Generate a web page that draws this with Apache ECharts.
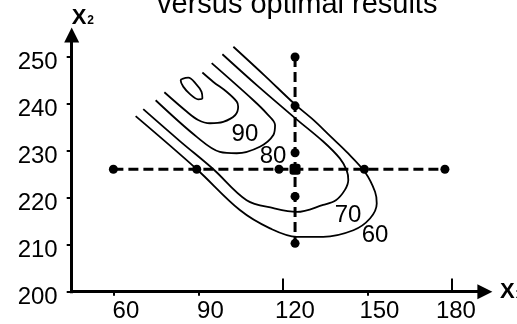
<!DOCTYPE html>
<html>
<head>
<meta charset="utf-8">
<script src="https://cdn.jsdelivr.net/npm/echarts/dist/echarts.min.js"></script>
<style>
html,body{margin:0;padding:0;background:#fff;}
#chart{width:517px;height:324px;}
</style>
</head>
<body>
<div id="chart"></div>
<script>
// ---- data ----
const titleText = 'versus optimal results';
const xTickValues = [60, 90, 120, 150, 180];
const yTickValues = [200, 210, 220, 230, 240, 250];
const xUpperTickValues = [120, 180];

// design points on the horizontal dashed line (X1 varies, X2 fixed)
const horizPointsX = [59.8, 89.4, 118.6, 148.9, 177.5];
const horizPointY = 226.1;
// design points on the vertical dashed line (X2 varies, X1 fixed)
const vertPointsY = [250, 239.6, 229.6, 220.3, 210.3];
const vertPointX = 124.3;
const centerPoint = [124.3, 226.1];

// contour lines [X1, X2]
const contour60 = [[102.4,252.2],[113.6,246.0],[124.3,239.9],[130.8,236.6],[136.7,233.2],[142.6,229.8],[149.1,225.5],[152.7,221.3],[153.3,218.8],[150.9,215.6],[145.0,213.1],[134.3,211.7],[124.9,211.7],[115.4,213.5],[104.7,217.4],[89.4,226.1],[67.7,237.4]];
const contour70 = [[98.5,250.6],[111.1,243.8],[124.3,237.0],[134.3,232.0],[140.2,228.4],[142.6,225.9],[143.2,223.8],[142.0,221.7],[138.8,219.5],[134.3,218.5],[124.9,217.0],[116.6,217.8],[107.1,219.5],[95.3,226.1],[83.4,232.1],[70.4,238.9]];
const contour80 = [[94.7,248.7],[109.5,240.8],[114.2,238.0],[117.2,235.5],[116.6,233.4],[111.8,230.9],[103.6,229.5],[97.6,229.8],[89.4,233.0],[74.8,240.8]];
const contour90 = [[91.4,246.7],[95.3,244.7],[100.0,242.6],[103.6,240.5],[104.1,239.4],[103.0,237.6],[98.8,236.2],[94.1,235.9],[89.9,236.6],[85.8,238.4],[77.9,242.5]];
const contourPeak = [[84.0,245.3],[86.4,245.6],[89.1,244.3],[91.1,242.6],[91.4,241.2],[89.9,241.0],[87.0,242.1],[84.6,243.7],[83.7,245.0],[84.0,245.3]];

const contourLabelText = ['90', '80', '70', '60'];
const contourLabelX = [106.5, 116.5, 143.1, 152.7];
const contourLabelY = [233.5, 228.8, 216.3, 211.9];

// ---- chart ----
const FONT = 'Liberation Sans';
const chart = echarts.init(document.getElementById('chart'), null, {renderer: 'canvas'});

const contourSeries = [contour60, contour70, contour80, contour90, contourPeak].map(d => ({
  type: 'line', data: d, smooth: 0.35, showSymbol: false, symbol: 'none',
  lineStyle: {color: '#000', width: 1.8, opacity: 1}, z: 2, silent: true
}));

const dots = horizPointsX.map(x => [x, horizPointY]).concat(vertPointsY.map(y => [vertPointX, y]));

const nameRich = {
  a: {fontSize: 22, fontWeight: 'bold', fontFamily: FONT, color: '#000'},
  b: {fontSize: 12, fontWeight: 'bold', fontFamily: FONT, color: '#000', verticalAlign: 'bottom', padding: [0, 0, 2, 1]}
};

const option = {
  backgroundColor: '#fff',
  animation: false,
  title: {
    text: titleText, left: 152, top: -15,
    textStyle: {fontSize: 29, fontWeight: 'normal', color: '#000', fontFamily: FONT}
  },
  grid: {left: 71.7, top: 35, width: 413.2, height: 256.7, outerBoundsMode: 'none', containLabel: false},
  xAxis: {
    type: 'value', min: 45, max: 191.7,
    axisLine: {show: true, onZero: false, lineStyle: {color: '#000', width: 3, cap: 'square'},
      symbol: ['none', 'triangle'], symbolSize: [15, 15]},
    axisTick: {show: true, length: 4, customValues: [60, 90, 150], lineStyle: {color: '#000', width: 2}},
    axisLabel: {
      customValues: xTickValues, color: '#000', fontFamily: FONT, fontSize: 24, margin: 8,
      formatter: v => v === 180 ? '{b|' + v + '}' : '{a|' + v + '}',
      rich: {
        a: {fontSize: 24, fontFamily: FONT, color: '#000', padding: [0, 0, 0, 24]},
        b: {fontSize: 24, fontFamily: FONT, color: '#000', padding: [0, 0, 0, 8]}
      }
    },
    splitLine: {show: false},
    name: '{a|X}{b|1}', nameLocation: 'end', nameGap: 15,
    nameTextStyle: {align: 'left', verticalAlign: 'middle', fontWeight: 'bold', fontSize: 22, fontFamily: FONT, color: '#000', rich: nameRich}
  },
  yAxis: {
    type: 'value', min: 200, max: 254.7,
    axisLine: {show: true, onZero: false, lineStyle: {color: '#000', width: 3, cap: 'square'},
      symbol: ['none', 'triangle'], symbolSize: [15, 15]},
    axisTick: {show: true, length: 5, customValues: yTickValues, lineStyle: {color: '#000', width: 2}},
    axisLabel: {
      customValues: yTickValues, color: '#000', fontFamily: FONT, fontSize: 24, margin: 14,
      verticalAlign: 'top', lineHeight: 11
    },
    splitLine: {show: false},
    name: '{a|X}{b|2}', nameLocation: 'end', nameGap: 6,
    nameTextStyle: {align: 'left', verticalAlign: 'bottom', fontWeight: 'bold', fontSize: 22, fontFamily: FONT, color: '#000', rich: nameRich}
  },
  series: contourSeries.concat([
    {type: 'line', data: [[horizPointsX[0], horizPointY], [horizPointsX[horizPointsX.length - 1], horizPointY]],
      showSymbol: false, symbol: 'none', lineStyle: {color: '#000', width: 3, type: [10, 5]}, z: 3, silent: true,
      markLine: {
        silent: true, symbol: 'none', label: {show: false}, animation: false,
        lineStyle: {color: '#000', width: 2, type: 'solid'},
        data: xUpperTickValues.map(v => [{coord: [v, 200]}, {coord: [v, 202.8]}])
      }},
    {type: 'line', data: [[vertPointX, vertPointsY[0]], [vertPointX, vertPointsY[vertPointsY.length - 1]]],
      showSymbol: false, symbol: 'none', lineStyle: {color: '#000', width: 3, type: [10, 5]}, z: 3, silent: true},
    {type: 'scatter', data: dots, symbol: 'circle', symbolSize: 9, itemStyle: {color: '#000', opacity: 1}, z: 4, silent: true},
    {type: 'scatter', data: [centerPoint], symbol: 'roundRect', symbolSize: 11, itemStyle: {color: '#000', opacity: 1}, z: 4, silent: true},
    {type: 'scatter', symbolSize: 0, z: 5, silent: true, itemStyle: {opacity: 1},
      data: contourLabelText.map((t, i) => ({name: t, value: [contourLabelX[i], contourLabelY[i]]})),
      label: {show: true, position: 'inside', formatter: p => p.name, color: '#000', opacity: 1, fontFamily: FONT, fontSize: 24}}
  ])
};
chart.setOption(option);
</script>
</body>
</html>
